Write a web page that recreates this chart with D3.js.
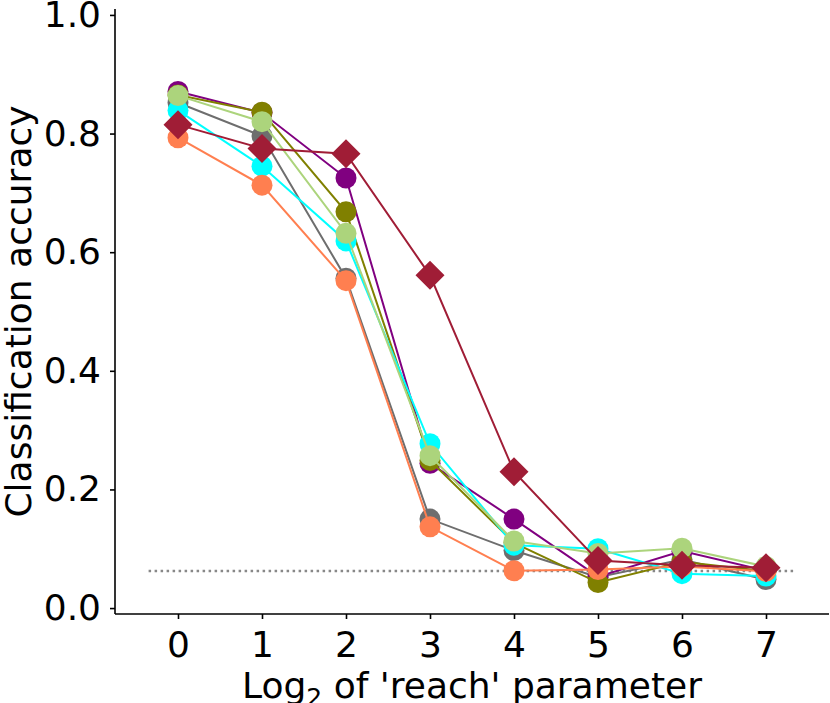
<!DOCTYPE html>
<html>
<head>
<meta charset="utf-8">
<script src="https://cdn.jsdelivr.net/npm/d3@7"></script>
<style>
  body { margin: 0; background: #fff; }
  text { font-family: "DejaVu Sans", sans-serif; fill: #000; }
</style>
</head>
<body>
<div id="chart"></div>
<script>
// log2 of reach parameter
var reach = [0, 1, 2, 3, 4, 5, 6, 7];
var yTicks = [0.0, 0.2, 0.4, 0.6, 0.8, 1.0];
var chance = 1 / 16;

var grayVals    = [0.852, 0.796, 0.556, 0.150, 0.097, 0.052, 0.082, 0.048];
var purpleVals  = [0.871, 0.835, 0.725, 0.244, 0.150, 0.053, 0.096, 0.063];
var oliveVals   = [0.865, 0.836, 0.668, 0.249, 0.110, 0.043, 0.078, 0.062];
var cyanVals    = [0.839, 0.745, 0.619, 0.277, 0.106, 0.100, 0.058, 0.054];
var coralVals   = [0.793, 0.713, 0.552, 0.137, 0.063, 0.065, 0.070, 0.062];
var greenVals   = [0.864, 0.820, 0.632, 0.257, 0.113, 0.092, 0.101, 0.070];
var diamondVals = [0.815, 0.775, 0.766, 0.561, 0.230, 0.080, 0.072, 0.068];

var series = [
  {values: grayVals,    colour: "#6e6e6e", marker: "circle"},
  {values: purpleVals,  colour: "#800080", marker: "circle"},
  {values: oliveVals,   colour: "#808000", marker: "circle"},
  {values: cyanVals,    colour: "#00ffff", marker: "circle"},
  {values: coralVals,   colour: "#ff7f50", marker: "circle"},
  {values: greenVals,   colour: "#acd47c", marker: "circle"},
  {values: diamondVals, colour: "#a01d36", marker: "diamond"}
];

var width = 830, height = 703;
var margin = {top: 9, right: 1, bottom: 89, left: 115};
var fontSize = "36px";

var svg = d3.select("#chart").append("svg")
  .attr("width", width)
  .attr("height", height);

var x = d3.scaleLinear().domain([-0.75, 7.75]).range([margin.left, width - margin.right]);
var y = d3.scaleLinear().domain([-0.01, 1.01]).range([height - margin.bottom, margin.top]);

// axes
var gx = svg.append("g")
  .attr("transform", "translate(0," + (height - margin.bottom) + ")")
  .call(d3.axisBottom(x).tickValues(reach).tickFormat(d3.format("d")).tickSize(5).tickPadding(12));

var gy = svg.append("g")
  .attr("transform", "translate(" + margin.left + ",0)")
  .call(d3.axisLeft(y).tickValues(yTicks).tickFormat(d3.format(".1f")).tickSize(5).tickPadding(9));

[gx, gy].forEach(function(g) {
  g.select(".domain").attr("stroke", "#000").attr("stroke-width", 1.6);
  g.selectAll(".tick line").attr("stroke", "#000").attr("stroke-width", 1.6);
  g.selectAll(".tick text")
    .style("font-family", "DejaVu Sans")
    .style("font-size", fontSize)
    .attr("fill", "#000");
});
gy.select(".domain").attr("d", "M0," + y.range()[0] + "V" + y.range()[1]);
gx.select(".domain").attr("d", "M" + x.range()[0] + ",0H" + x.range()[1]);

// chance level
svg.append("line")
  .attr("x1", x(-0.35)).attr("x2", x(7.35))
  .attr("y1", y(chance)).attr("y2", y(chance))
  .attr("stroke", "#888")
  .attr("stroke-width", 2.5)
  .attr("stroke-dasharray", "2.5,3.5");

// series
var line = d3.line()
  .x(function(d, i) { return x(reach[i]); })
  .y(function(d) { return y(d); });

series.forEach(function(s) {
  var g = svg.append("g");
  g.append("path")
    .attr("d", line(s.values))
    .attr("fill", "none")
    .attr("stroke", s.colour)
    .attr("stroke-width", 2);
  if (s.marker === "circle") {
    g.selectAll("circle")
      .data(s.values)
      .enter()
      .append("circle")
      .attr("cx", function(d, i) { return x(reach[i]); })
      .attr("cy", function(d) { return y(d); })
      .attr("r", 10.5)
      .attr("fill", s.colour);
  } else {
    g.selectAll("path.mark")
      .data(s.values)
      .enter()
      .append("path")
      .attr("class", "mark")
      .attr("d", function(d, i) {
        var cx = x(reach[i]), cy = y(d), r = 14.5;
        return "M" + cx + "," + (cy - r) + "L" + (cx + r) + "," + cy +
               "L" + cx + "," + (cy + r) + "L" + (cx - r) + "," + cy + "Z";
      })
      .attr("fill", s.colour);
  }
});

// axis titles
var xLabel = svg.append("text")
  .attr("x", (margin.left + width - margin.right) / 2)
  .attr("y", 698)
  .attr("text-anchor", "middle")
  .style("font-size", fontSize);
xLabel.append("tspan").text("Log");
xLabel.append("tspan").attr("dy", 8).style("font-size", "25px").text("2");
xLabel.append("tspan").attr("dy", -8).text(" of 'reach' parameter");

svg.append("text")
  .attr("transform", "translate(31," + y(0.5) + ") rotate(-90)")
  .attr("text-anchor", "middle")
  .style("font-size", fontSize)
  .text("Classification accuracy");
</script>
</body>
</html>
